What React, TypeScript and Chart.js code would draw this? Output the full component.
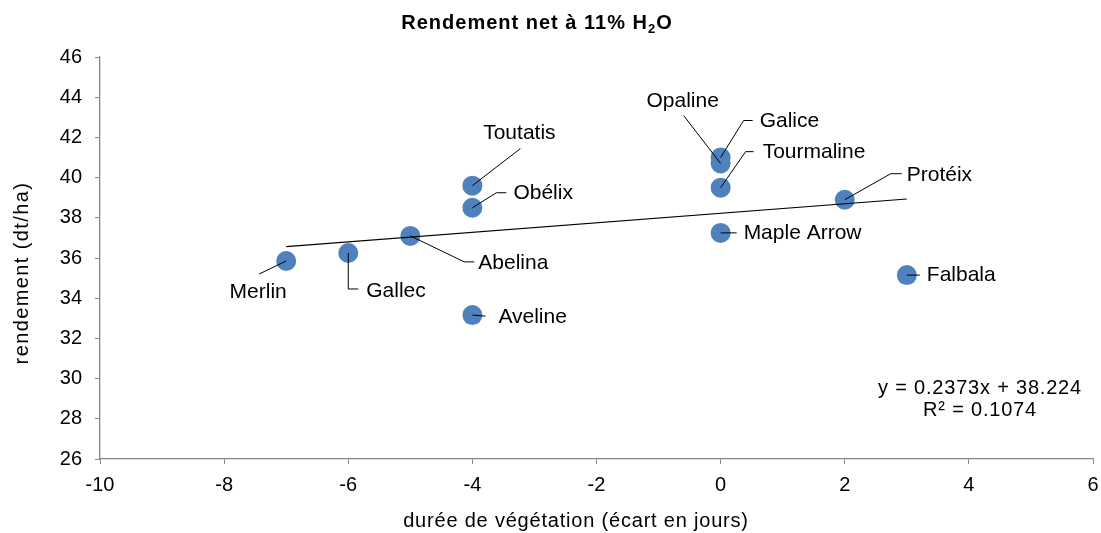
import React, { useEffect, useRef } from 'react';
import { Chart, registerables } from 'chart.js';

Chart.register(...registerables);

// ---- data ----
const varieties = ['Merlin', 'Gallec', 'Abelina', 'Toutatis', 'Obélix', 'Aveline', 'Opaline', 'Galice', 'Tourmaline', 'Maple Arrow', 'Protéix', 'Falbala'];
const ecartJours = [-7, -6, -5, -4, -4, -4, 0, 0, 0, 0, 2, 3];
const rendement = [35.85, 36.25, 37.1, 39.6, 38.5, 33.16, 40.7, 41.0, 39.5, 37.25, 38.9, 35.15];
const xTickValues = [-10, -8, -6, -4, -2, 0, 2, 4, 6];
const yTickValues = [26, 28, 30, 32, 34, 36, 38, 40, 42, 44, 46];
const trendSlope = 0.2373;
const trendIntercept = 38.224;
const trendR2 = 0.1074;
const trendXRange = [-7, 3];

const titleMain = 'Rendement net à 11% H';
const titleSub = '2';
const titleEnd = 'O';
const xTitle = 'durée de végétation (écart en jours)';
const yTitle = 'rendement (dt/ha)';

// ---- label layout (pixel offsets from each point) ----
type Layout = { path: number[][]; text: number[]; align: CanvasTextAlign };
const labelLayout: Layout[] = [
  { path: [[-27, 13]], text: [-28, 31], align: 'center' },          // Merlin
  { path: [[0, 36], [10, 36]], text: [18, 38], align: 'left' },      // Gallec
  { path: [[54, 26], [64, 26]], text: [68, 27], align: 'left' },     // Abelina
  { path: [[48, -37]], text: [47, -52], align: 'center' },          // Toutatis
  { path: [[24, -15], [34, -15]], text: [41, -15], align: 'left' },  // Obélix
  { path: [[13, 1]], text: [26, 2], align: 'left' },                 // Aveline
  { path: [[-37, -48]], text: [-38, -62], align: 'center' },        // Opaline
  { path: [[23, -37], [32, -37]], text: [39, -36], align: 'left' },  // Galice
  { path: [[25, -36], [33, -36]], text: [42, -35], align: 'left' },  // Tourmaline
  { path: [[16, 0]], text: [23, 0], align: 'left' },                 // Maple Arrow
  { path: [[46, -26], [57, -26]], text: [62, -25], align: 'left' },  // Protéix
  { path: [[13, 0]], text: [20, 0], align: 'left' },                 // Falbala
];

const FONT = '"Liberation Sans", Arial, sans-serif';
const AXIS_GRAY = '#868686';
const POINT_BLUE = '#4F81BD';

const annotatePlugin = {
  id: 'annotate',
  afterDatasetsDraw(chart: any) {
    const ctx: CanvasRenderingContext2D = chart.ctx;
    const meta = chart.getDatasetMeta(1);
    ctx.save();
    ctx.strokeStyle = '#000';
    ctx.lineWidth = 1;
    ctx.fillStyle = '#000';
    ctx.font = `21px ${FONT}`;
    (ctx as any).letterSpacing = '0px';
    ctx.textBaseline = 'middle';
    varieties.forEach((name, i) => {
      const el = meta.data[i];
      if (!el) return;
      const x = el.x;
      const y = el.y;
      const L = labelLayout[i];
      ctx.beginPath();
      ctx.moveTo(x, y);
      L.path.forEach(([dx, dy]) => ctx.lineTo(x + dx, y + dy));
      ctx.stroke();
      ctx.textAlign = L.align;
      ctx.fillText(name, x + L.text[0], y + L.text[1]);
    });

    // trendline equation
    ctx.font = `20px ${FONT}`;
    (ctx as any).letterSpacing = '0.8px';
    ctx.textAlign = 'center';
    ctx.fillText(`y = ${trendSlope}x + ${trendIntercept}`, 980, 388);
    ctx.fillText(`R² = ${trendR2}`, 980, 410);

    // title with subscript
    (ctx as any).letterSpacing = '1px';
    ctx.textAlign = 'left';
    ctx.textBaseline = 'alphabetic';
    const bigFont = `bold 20px ${FONT}`;
    const smallFont = `bold 13px ${FONT}`;
    ctx.font = bigFont;
    const w1 = ctx.measureText(titleMain).width;
    const w3 = ctx.measureText(titleEnd).width;
    ctx.font = smallFont;
    const w2 = ctx.measureText(titleSub).width;
    const total = w1 + w2 + w3;
    let tx = 537 - total / 2;
    ctx.font = bigFont;
    ctx.fillText(titleMain, tx, 29);
    tx += w1;
    ctx.font = smallFont;
    ctx.fillText(titleSub, tx, 33);
    tx += w2;
    ctx.font = bigFont;
    ctx.fillText(titleEnd, tx, 29);

    // axis titles
    ctx.font = `20px ${FONT}`;
    (ctx as any).letterSpacing = '0.8px';
    ctx.textAlign = 'center';
    ctx.textBaseline = 'middle';
    ctx.fillText(xTitle, 576, 521);
    ctx.save();
    ctx.translate(22, 273);
    ctx.rotate(-Math.PI / 2);
    (ctx as any).letterSpacing = '1.4px';
    ctx.fillText(yTitle, 0, 0);
    ctx.restore();
    ctx.restore();
  },
};

export default function App() {
  const canvasRef = useRef<HTMLCanvasElement | null>(null);

  useEffect(() => {
    document.body.style.margin = '0';
    const canvas = canvasRef.current;
    if (!canvas) return;
    const points = ecartJours.map((x, i) => ({ x, y: rendement[i] }));
    const trend = trendXRange.map((x) => ({ x, y: trendSlope * x + trendIntercept }));
    const chart = new Chart(canvas, {
      type: 'scatter',
      data: {
        datasets: [
          {
            type: 'line',
            label: 'Tendance',
            data: trend,
            borderColor: '#000',
            borderWidth: 1.2,
            pointRadius: 0,
            fill: false,
            order: 0,
          } as any,
          {
            label: 'Rendement',
            data: points,
            backgroundColor: POINT_BLUE,
            borderColor: POINT_BLUE,
            borderWidth: 0,
            pointRadius: 10,
            order: 1,
          },
        ],
      },
      options: {
        animation: false,
        responsive: false,
        layout: { autoPadding: false, padding: { top: 57, right: 8, left: 0, bottom: 0 } },
        plugins: {
          legend: { display: false },
          tooltip: { enabled: false },
          title: { display: false },
        },
        scales: {
          x: {
            type: 'linear',
            min: xTickValues[0],
            max: xTickValues[xTickValues.length - 1],
            afterBuildTicks: (scale: any) => {
              scale.ticks = xTickValues.map((v) => ({ value: v }));
            },
            afterFit: (scale: any) => {
              scale.height = 74;
              scale.paddingLeft = 0;
              scale.paddingRight = 0;
            },
            ticks: {
              color: '#000',
              font: { family: FONT, size: 20 },
              padding: 9,
              maxRotation: 0,
            },
            grid: {
              drawOnChartArea: false,
              drawTicks: true,
              tickLength: 5,
              color: AXIS_GRAY,
            },
            border: { color: AXIS_GRAY, width: 1.3 },
            title: { display: false },
          },
          y: {
            type: 'linear',
            min: yTickValues[0],
            max: yTickValues[yTickValues.length - 1],
            afterBuildTicks: (scale: any) => {
              scale.ticks = yTickValues.map((v) => ({ value: v }));
            },
            afterFit: (scale: any) => {
              scale.width = 100;
              scale.paddingTop = 0;
              scale.paddingBottom = 0;
            },
            ticks: {
              color: '#000',
              font: { family: FONT, size: 20 },
              padding: 13,
            },
            grid: {
              drawOnChartArea: false,
              drawTicks: true,
              tickLength: 5,
              color: AXIS_GRAY,
            },
            border: { color: AXIS_GRAY, width: 1.3 },
            title: { display: false },
          },
        },
      },
      plugins: [annotatePlugin],
    });
    return () => chart.destroy();
  }, []);

  return (
    <div style={{ width: 1101, height: 533, background: '#fff' }}>
      <canvas ref={canvasRef} width={1101} height={533} />
    </div>
  );
}
